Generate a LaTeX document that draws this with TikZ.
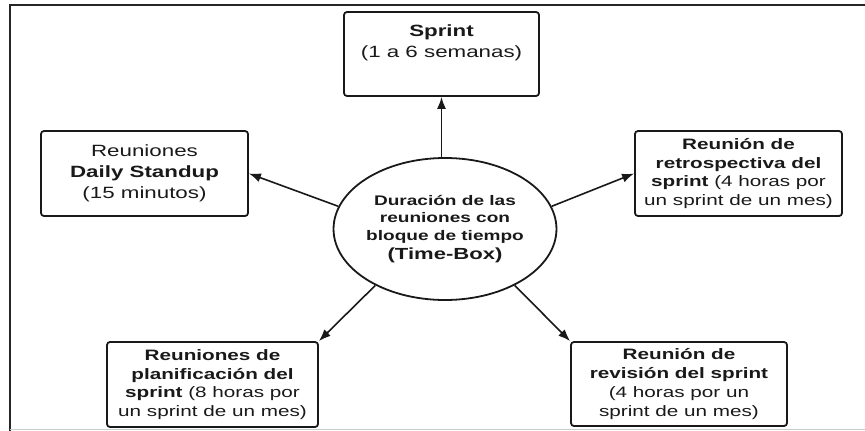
\documentclass[tikz,border=0pt]{standalone}
\usepackage{fontspec}
\setmainfont{Liberation Sans}[FakeStretch=1.37]
\usetikzlibrary{arrows.meta,shapes.geometric}

\tikzset{
  box/.style={draw=black!90, line width=1.8pt, rounded corners=3pt, inner sep=0pt,
    align=center, text=black!90},
  hub/.style={draw=black!90, line width=1.8pt, ellipse, inner sep=0pt,
    minimum width=216pt, minimum height=142pt, align=center, text=black!90,
    font=\fontsize{13.9}{17.5}\selectfont},
  link/.style={draw=black!90, line width=1.6pt,
    -{Latex[length=12pt,width=9pt]}},
  bigtext/.style={font=\fontsize{16.3}{21}\selectfont},
  smalltext/.style={font=\fontsize{15.1}{18.8}\selectfont}
}

\begin{document}
\begin{tikzpicture}[x=1pt,y=-1pt]
\useasboundingbox (0,0) rectangle (865,431);

% page frame
\draw[line width=2.5pt, black!85] (10,431) -- (10,5) -- (865,5);
\draw[line width=0.8pt, black!20] (10,429.5) -- (865,429.5);

% central ellipse
\node[hub] (c) at (445,229)
  {\textbf{Duración de las}\\ \textbf{reuniones con}\\ \textbf{bloque de tiempo}\\[1.5pt]
   {\fontsize{16.1}{20}\selectfont\textbf{(Time-Box)}}};

% surrounding boxes
\node[box, bigtext, minimum width=195pt, minimum height=84pt] (sprint) at (441.5,54)
  {\textbf{Sprint}\\(1 a 6 semanas)\\[4pt]};
\node[box, bigtext, minimum width=207pt, minimum height=85pt] (daily) at (144.5,173.5)
  {Reuniones\\ \textbf{Daily Standup}\\(15 minutos)};
\node[box, smalltext, minimum width=207pt, minimum height=85pt] (retro) at (738.5,173.5)
  {\textbf{Reunión de}\\ \textbf{retrospectiva del}\\ \textbf{sprint} (4 horas por\\un sprint de un mes)};
\node[box, smalltext, minimum width=211pt, minimum height=85pt] (plan) at (212.5,384.5)
  {\textbf{Reuniones de}\\ \textbf{planificación del}\\ \textbf{sprint} (8 horas por\\un sprint de un mes)};
\node[box, smalltext, minimum width=216pt, minimum height=84pt] (rev) at (679,384)
  {\textbf{Reunión de}\\ \textbf{revisión del sprint}\\(4 horas por un\\sprint de un mes)};

% connectors
\draw[link] (sprint.south |- c.north) -- (sprint.south);
\draw[link] (c.168) -- (daily.east);
\draw[link] (c.12) -- (retro.west);
\draw[link] (c.219) -- (plan.north east);
\draw[link] (c.-39) -- (rev.north west);
\end{tikzpicture}
\end{document}
